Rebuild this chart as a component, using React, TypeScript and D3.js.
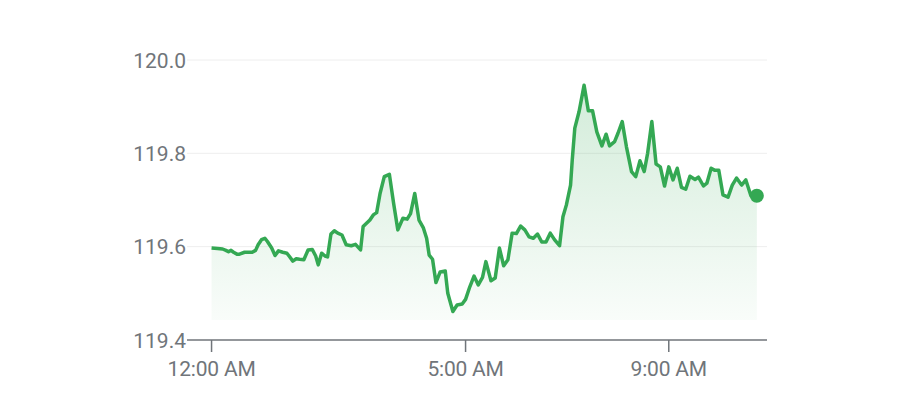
import React, { useEffect, useRef } from 'react';
import * as d3 from 'd3';

// minutes after midnight
const MINUTES = [
  0, 7, 13, 17, 20, 23, 26, 30, 33, 39, 43, 48, 52, 55, 59, 63, 66, 71, 75, 79,
  84, 89, 92, 96, 100, 104, 109, 114, 119, 123, 126, 130, 134, 137, 141, 145, 149, 154, 159, 165,
  170, 176, 179, 183, 187, 191, 195, 199, 204, 210, 215, 220, 226, 231, 235, 240, 245, 250, 254, 257,
  261, 265, 270, 276, 279, 285, 290, 296, 300, 305, 310, 315, 320, 324, 330, 335, 340, 345, 350, 355,
  360, 365, 370, 375, 380, 385, 390, 395, 400, 405, 411, 415, 419, 424, 426, 429, 434, 440, 445, 450,
  455, 461, 466, 470, 476, 480, 485, 490, 496, 501, 506, 511, 515, 520, 525, 530, 535, 540, 545, 550,
  555, 560, 565, 571, 575, 581, 585, 590, 594, 599, 604, 610, 615, 620, 626, 631, 637, 644,
];

const PRICES = [
  119.597, 119.596, 119.595, 119.592, 119.589, 119.592, 119.588, 119.584, 119.584, 119.588,
  119.588, 119.588, 119.592, 119.604, 119.615, 119.618, 119.611, 119.597, 119.581, 119.591,
  119.588, 119.586, 119.579, 119.569, 119.574, 119.573, 119.572, 119.593, 119.594, 119.580,
  119.561, 119.586, 119.580, 119.578, 119.627, 119.634, 119.629, 119.625, 119.604, 119.602,
  119.605, 119.593, 119.643, 119.650, 119.657, 119.668, 119.673, 119.714, 119.750, 119.755,
  119.693, 119.636, 119.661, 119.659, 119.671, 119.714, 119.657, 119.641, 119.618, 119.582,
  119.573, 119.523, 119.546, 119.548, 119.500, 119.461, 119.475, 119.477, 119.487, 119.514,
  119.537, 119.518, 119.534, 119.568, 119.527, 119.533, 119.597, 119.559, 119.572, 119.629,
  119.628, 119.644, 119.636, 119.621, 119.618, 119.627, 119.610, 119.610, 119.629, 119.615,
  119.602, 119.664, 119.689, 119.732, 119.786, 119.854, 119.889, 119.946, 119.891, 119.891,
  119.846, 119.816, 119.841, 119.816, 119.825, 119.843, 119.868, 119.814, 119.761, 119.750,
  119.784, 119.761, 119.800, 119.868, 119.777, 119.771, 119.730, 119.771, 119.743, 119.768,
  119.727, 119.723, 119.751, 119.744, 119.749, 119.730, 119.736, 119.768, 119.764, 119.764,
  119.711, 119.706, 119.732, 119.747, 119.732, 119.743, 119.709, 119.709,
];

const Y_TICKS = [119.4, 119.6, 119.8, 120.0];
const X_TICK_MINUTES = [0, 300, 540];
const X_TICK_LABELS = ['12:00 AM', '5:00 AM', '9:00 AM'];

const FILL_BASE = 119.443;
const GREEN = '#34a853';
const GREY = '#70757a';

const App: React.FC = () => {
  const chartRef = useRef<SVGSVGElement>(null);

  useEffect(() => {
    if (!chartRef.current) return;
    const svg = d3.select(chartRef.current);
    svg.selectAll('*').remove();

    const left = 187;
    const right = 767;
    const top = 60;
    const bottom = 340;

    const x = d3.scaleLinear().domain([-29, 656]).range([left, right]);
    const y = d3.scaleLinear().domain([119.4, 120.0]).range([bottom, top]);

    const data = MINUTES.map((m, i) => ({ m, v: PRICES[i] }));

    // gradient for the area
    const defs = svg.append('defs');
    const grad = defs.append('linearGradient')
      .attr('id', 'area-grad')
      .attr('x1', 0).attr('y1', 0).attr('x2', 0).attr('y2', 1);
    grad.append('stop').attr('offset', '0%').attr('stop-color', GREEN).attr('stop-opacity', 0.22);
    grad.append('stop').attr('offset', '100%').attr('stop-color', GREEN).attr('stop-opacity', 0.03);

    // grid lines
    svg.append('g')
      .selectAll('line')
      .data(Y_TICKS.slice(1))
      .join('line')
      .attr('x1', left)
      .attr('x2', right)
      .attr('y1', d => y(d))
      .attr('y2', d => y(d))
      .attr('stroke', '#eeeeee')
      .attr('stroke-width', 1);

    // y labels
    svg.append('g')
      .selectAll('text')
      .data(Y_TICKS)
      .join('text')
      .attr('x', left - 1)
      .attr('y', d => y(d))
      .attr('dy', '0.36em')
      .attr('text-anchor', 'end')
      .style('font-family', 'Roboto, Arial, sans-serif')
      .style('font-size', '21px')
      .style('fill', GREY)
      .text(d => d.toFixed(1));

    // area + line
    const area = d3.area<{ m: number; v: number }>()
      .x(d => x(d.m))
      .y0(y(FILL_BASE))
      .y1(d => y(d.v));
    svg.append('path')
      .datum(data)
      .attr('d', area)
      .attr('fill', 'url(#area-grad)');

    const line = d3.line<{ m: number; v: number }>()
      .x(d => x(d.m))
      .y(d => y(d.v));
    svg.append('path')
      .datum(data)
      .attr('d', line)
      .attr('fill', 'none')
      .attr('stroke', GREEN)
      .attr('stroke-width', 3.5)
      .attr('stroke-linejoin', 'round');

    const last = data[data.length - 1];
    svg.append('circle')
      .attr('cx', x(last.m))
      .attr('cy', y(last.v))
      .attr('r', 7)
      .attr('fill', GREEN);

    // x axis
    svg.append('line')
      .attr('x1', left)
      .attr('x2', right)
      .attr('y1', bottom)
      .attr('y2', bottom)
      .attr('stroke', GREY)
      .attr('stroke-width', 1.5);

    const ticks = svg.append('g')
      .selectAll('g')
      .data(X_TICK_MINUTES)
      .join('g')
      .attr('transform', d => `translate(${x(d)}, ${bottom})`);
    ticks.append('line')
      .attr('y1', 0)
      .attr('y2', 12)
      .attr('stroke', GREY)
      .attr('stroke-width', 1.5);
    ticks.append('text')
      .attr('y', 36)
      .attr('text-anchor', 'middle')
      .style('font-family', 'Roboto, Arial, sans-serif')
      .style('font-size', '21px')
      .style('letter-spacing', '-0.2px')
      .style('fill', GREY)
      .text((d, i) => X_TICK_LABELS[i]);
  }, []);

  return (
    <svg
      ref={chartRef}
      width={903}
      height={394}
      style={{ position: 'absolute', left: 0, top: 0, background: '#fff' }}
    />
  );
};

export default App;
